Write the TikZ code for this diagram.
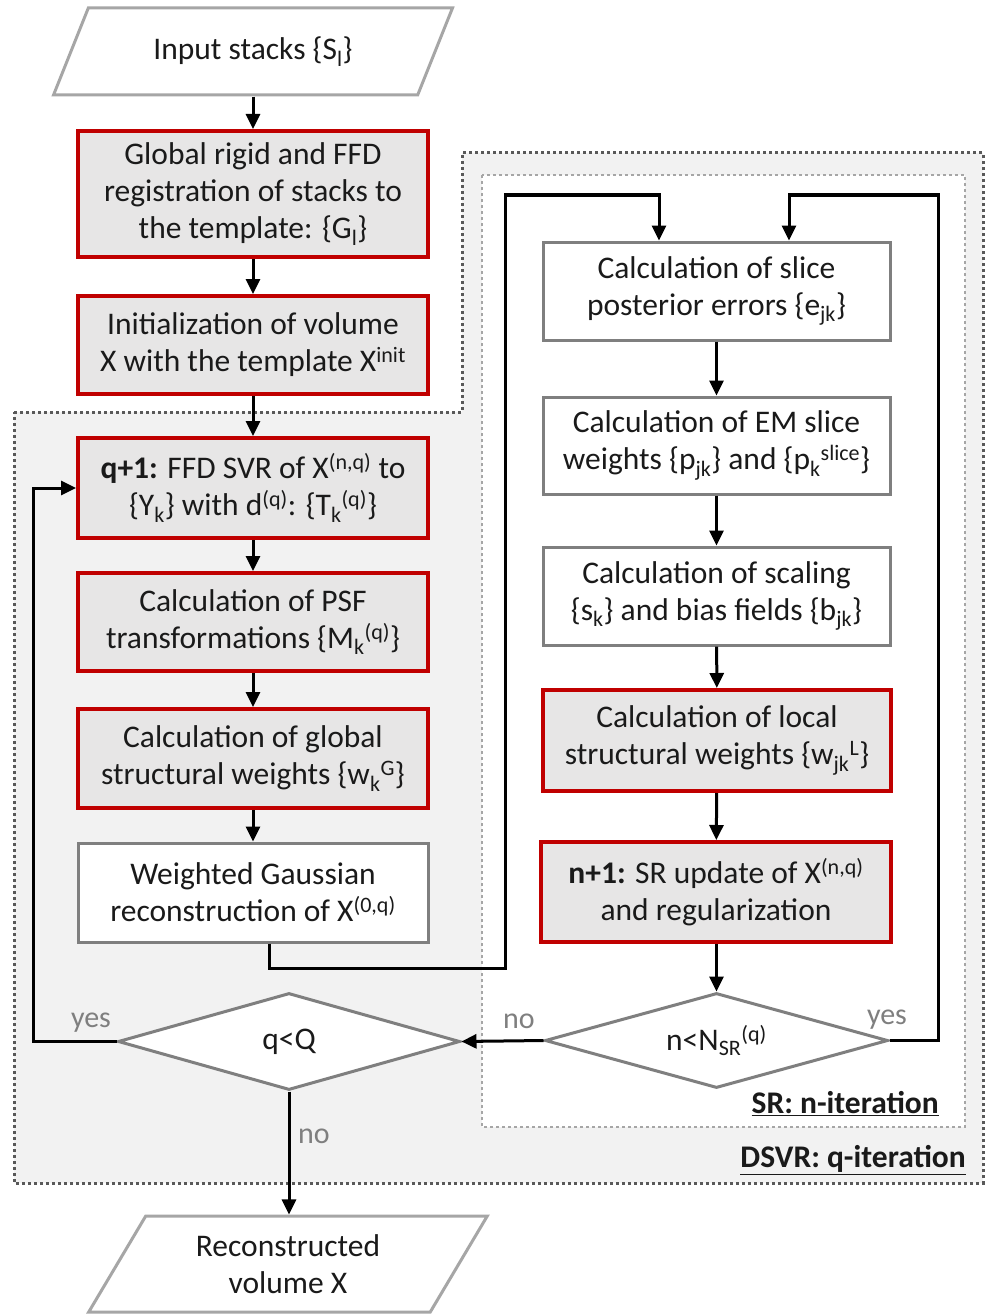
\documentclass[tikz,border=0pt]{standalone}
\usepackage{fontspec}
\setmainfont{Carlito}
\usetikzlibrary{shapes.geometric,arrows.meta}
\definecolor{redb}{HTML}{C00000}
\definecolor{boxgray}{HTML}{E7E6E6}
\definecolor{regiongray}{HTML}{F2F2F2}
\definecolor{bordgray}{HTML}{7F7F7F}
\definecolor{lightbord}{HTML}{A6A6A6}
\definecolor{txt}{HTML}{1A1A1A}
\definecolor{lbl}{HTML}{7F7F7F}
\definecolor{outerdot}{HTML}{595959}
\definecolor{innerdot}{HTML}{A6A6A6}
\begin{document}
\begin{tikzpicture}[x=1pt,y=-1pt,
  font=\fontsize{31.5}{37}\selectfont,
  redbox/.style={draw=redb, line width=4pt, fill=boxgray, align=center, inner sep=0pt, text=txt, minimum width=350pt},
  plainbox/.style={draw=bordgray, line width=3pt, fill=white, align=center, inner sep=0pt, text=txt, minimum width=347pt},
  iobox/.style={trapezium, trapezium stretches=true, draw=lightbord, line width=3pt, fill=white, align=center, inner sep=0pt, text=txt, minimum width=400pt},
  decision/.style={diamond, aspect=3.5, draw=bordgray, line width=3pt, fill=white, inner sep=0pt, text=txt},
  conn/.style={draw=black, line width=3pt},
  arr/.style={conn, -{Triangle[length=15pt,width=14pt]}},
  lab/.style={text=lbl, font=\fontsize{30}{34}\selectfont, inner sep=0pt},
  title/.style={text=txt, font=\fontsize{31.5}{36}\selectfont\bfseries, inner sep=0pt, anchor=east}
]
\useasboundingbox (0,0) rectangle (985,1316);
\fill[white] (0,0) rectangle (985,1316);

% regions
\fill[regiongray] (14,412) -- (462,412) -- (462,153) -- (983,153) -- (983,1183) -- (14,1183) -- cycle;
\draw[outerdot, line width=3pt, dash pattern=on 3pt off 3pt] (14,412) -- (462,412) -- (462,153) -- (983,153) -- (983,1183) -- (14,1183) -- cycle;
\fill[white] (482,175) rectangle (965,1127);
\draw[innerdot, line width=2.5pt, dash pattern=on 3pt off 3pt] (482,175) rectangle (965,1127);

% left column
\node[iobox, trapezium left angle=54.5, trapezium right angle=125.5, minimum height=87pt] (in) at (253,51.5) {Input stacks \{S\textsubscript{l}\}};
\node[redbox, minimum height=126pt] (b1) at (253,194) {Global rigid and FFD\\registration of stacks to\\the template: \{G\textsubscript{l}\}};
\node[redbox, minimum height=98pt] (b2) at (253,345) {Initialization of volume\\X with the template X\textsuperscript{init}};
\node[redbox, minimum height=100pt] (b3) at (253,488) {\textbf{q+1:} FFD SVR of X\textsuperscript{(n,q)} to\\\{Y\textsubscript{k}\} with d\textsuperscript{(q)}: \{T\textsubscript{k}\textsuperscript{(q)}\}};
\node[redbox, minimum height=98pt] (b4) at (253,622) {Calculation of PSF\\transformations \{M\textsubscript{k}\textsuperscript{(q)}\}};
\node[redbox, minimum height=99pt] (b5) at (253,758.5) {Calculation of global\\structural weights \{w\textsubscript{k}\textsuperscript{G}\}};
\node[plainbox, minimum width=350pt, minimum height=99pt] (b6) at (253,892.5) {Weighted Gaussian\\reconstruction of X\textsuperscript{(0,q)}};
\node[decision, minimum width=342pt, minimum height=97pt] (dq) at (289,1041.5) {q<Q};
\node[iobox, trapezium left angle=58, trapezium right angle=122, minimum height=96pt] (out) at (288,1264) {Reconstructed\\volume X};

% right column
\node[plainbox, minimum height=98pt] (r1) at (716.5,291) {Calculation of slice\\posterior errors \{e\textsubscript{jk}\}};
\node[plainbox, minimum height=97pt] (r2) at (716.5,445.5) {Calculation of EM slice\\weights \{p\textsubscript{jk}\} and \{p\textsubscript{k}\textsuperscript{slice}\}};
\node[plainbox, minimum height=98pt] (r3) at (716.5,596) {Calculation of scaling\\\{s\textsubscript{k}\} and bias fields \{b\textsubscript{jk}\}};
\node[redbox, minimum width=348pt, minimum height=101pt] (r4) at (717,740.5) {Calculation of local\\structural weights \{w\textsubscript{jk}\textsuperscript{L}\}};
\node[redbox, minimum height=100pt] (r5) at (716,892) {\textbf{n+1:} SR update of X\textsuperscript{(n,q)}\\and regularization};
\node[decision, minimum width=343pt, minimum height=95pt] (dn) at (716.5,1040.5) {n<N\textsubscript{SR}\textsuperscript{(q)}};

% coordinates for connector bends
\coordinate (g1) at (505,968);
\coordinate (g2) at (505,195);
\coordinate (h1) at (938,1040.5);
\coordinate (h2) at (938,195);
\coordinate (k1) at (33,1041.5);
\coordinate (k2) at (33,488);

% connectors
\draw[arr] (in.south -| b1.north) -- (b1.north);
\draw[arr] (b1) -- (b2);
\draw[arr] (b2) -- (b3);
\draw[arr] (b3) -- (b4);
\draw[arr] (b4) -- (b5);
\draw[arr] (b5) -- (b6);
\draw[arr] ([xshift=16pt]b6.south) |- (g1) -- (g2) -| ([xshift=-57.5pt]r1.north);
\draw[arr] (r1) -- (r2);
\draw[arr] (r2) -- (r3);
\draw[arr] (r3) -- (r4);
\draw[arr] (r4) -- (r5);
\draw[arr] (r5.south -| dn.north) -- (dn.north);
\draw[arr] (dn.east) -- (h1) -- (h2) -| ([xshift=72.5pt]r1.north);
\draw[arr] (dn.west) -- (dq.east);
\draw[arr] (dq.west) -- (k1) -- (k2) -- (b3.west);
\draw[arr] (dq.south) -- (out.north -| dq.south);

% labels
\node[lab] (yesq) at (91,1023) {yes};
\node[lab] (non) at (519,1021) {no};
\node[lab] (yesn) at (887,1020) {yes};
\node[lab] (noq) at (314,1136) {no};
\node[title] (srt) at (939,1104) {\underline{SR: n-iteration}};
\node[title] (dsvrt) at (966,1160) {\underline{DSVR: q-iteration}};
\end{tikzpicture}
\end{document}
